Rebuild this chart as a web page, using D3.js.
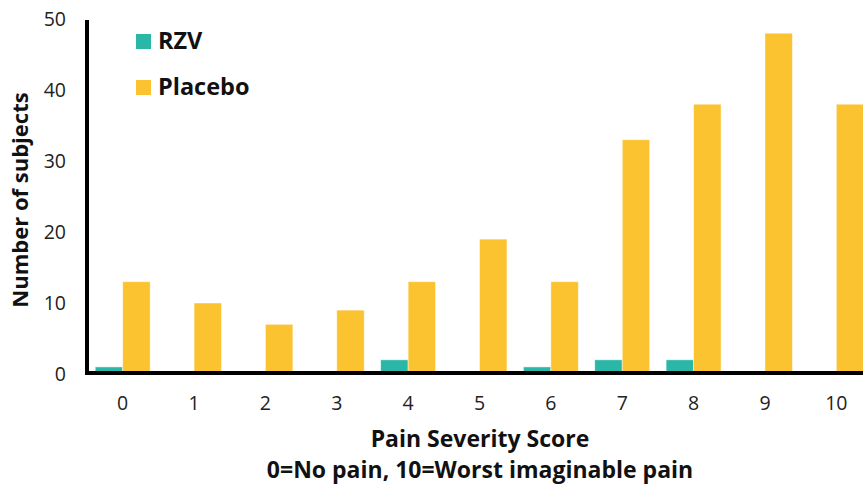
<!DOCTYPE html>
<html><head><meta charset="utf-8">
<script src="https://cdn.jsdelivr.net/npm/d3@7"></script>
<style>body{margin:0;background:#fff}svg{display:block;font-family:"Open Sans",sans-serif}</style>
</head><body><svg id="c" width="863" height="484"></svg>
<script>
const categories = ["0","1","2","3","4","5","6","7","8","9","10"];
const seriesNames = ["RZV","Placebo"];
const rzv = [1,0,0,0,2,0,1,2,2,0,0];
const placebo = [13,10,7,9,13,19,13,33,38,48,38];
const yTicks = [0,10,20,30,40,50];
const colors = {RZV:"#2bb7a8", Placebo:"#fcc331"};

const svg = d3.select("#c");
const x0 = d3.scaleBand().domain(categories).range([87, 872]).paddingInner(0.23).paddingOuter(0.115);
const x1 = d3.scaleBand().domain(seriesNames).range([0, x0.bandwidth()]);
const y = d3.scaleLinear().domain([0,50]).range([374,19]);

const data = categories.map((c,i)=>({cat:c, vals:[{s:"RZV",v:rzv[i]},{s:"Placebo",v:placebo[i]}]}));

const g = svg.append("g");
g.selectAll("g.grp").data(data).join("g").attr("class","grp")
  .attr("transform", d=>`translate(${x0(d.cat)},0)`)
  .selectAll("rect").data(d=>d.vals.filter(v=>v.v>0)).join("rect")
  .attr("x", d=>x1(d.s)).attr("width", x1.bandwidth())
  .attr("y", d=>y(d.v)).attr("height", d=>y(0)-y(d.v))
  .attr("fill", d=>colors[d.s]).attr("stroke","#fff").attr("stroke-opacity",0.6).attr("stroke-width",0.8);

// axes lines
svg.append("line").attr("x1",87).attr("x2",863).attr("y1",373).attr("y2",373).attr("stroke","#000").attr("stroke-width",4);
svg.append("line").attr("x1",87).attr("x2",87).attr("y1",20).attr("y2",375).attr("stroke","#000").attr("stroke-width",4);

// y ticks
const ya = d3.axisLeft(y).tickValues(yTicks).tickSize(0).tickPadding(0);
const yg = svg.append("g").attr("transform","translate(66,0)").call(ya);
yg.select(".domain").remove();
yg.selectAll("text").attr("font-size",19.5).attr("fill","#222").attr("font-family","Open Sans");

// x ticks
const xa = d3.axisBottom(x0).tickSize(0).tickPadding(0);
const xg = svg.append("g").attr("transform","translate(0,396)").call(xa);
xg.select(".domain").remove();
xg.selectAll("text").attr("font-size",19.5).attr("fill","#222").attr("font-family","Open Sans");

// titles
svg.append("text").attr("transform","translate(28,200) rotate(-90)").attr("text-anchor","middle")
  .attr("font-size",22).attr("font-weight","bold").attr("fill","#111").text("Number of subjects");
svg.append("text").attr("x",480).attr("y",447).attr("text-anchor","middle")
  .attr("font-size",23).attr("font-weight","bold").attr("fill","#111").text("Pain Severity Score");
svg.append("text").attr("x",480).attr("y",478).attr("text-anchor","middle")
  .attr("font-size",23).attr("font-weight","bold").attr("fill","#111").text("0=No pain, 10=Worst imaginable pain");

// legend
const lg = svg.append("g");
seriesNames.forEach((s,i)=>{
  lg.append("rect").attr("x",136).attr("y",34+i*46).attr("width",15).attr("height",15).attr("fill",colors[s]);
  lg.append("text").attr("x",158).attr("y",49+i*46).attr("font-size",23.5).attr("font-weight","bold").attr("fill","#111").text(s);
});
</script></body></html>
